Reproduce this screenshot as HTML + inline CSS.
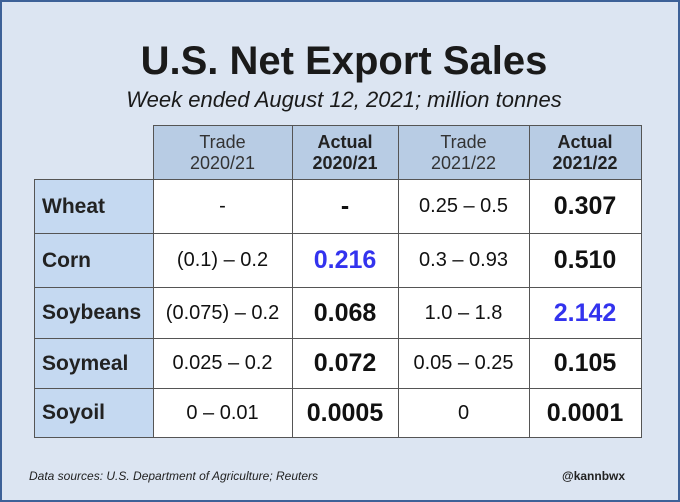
<!DOCTYPE html>
<html><head><meta charset="utf-8"><style>
body{margin:0;width:680px;height:502px;overflow:hidden;font-family:"Liberation Sans",Arial,sans-serif;}
#frame{position:absolute;left:0;top:0;width:676px;height:498px;border:2px solid #3d6198;background:#dce5f2;}
.t{position:absolute;left:4px;width:676px;text-align:center;color:#1a1a1a;}
table{position:absolute;left:32px;top:123px;border-collapse:collapse;}
td{border:1px solid #555;text-align:center;padding:0;font-size:20px;color:#111;background:#fff;}
td.lab{background:#c5d9f1;text-align:left;padding-left:7px;font-weight:bold;font-size:21px;color:#222;}
td.hd{background:#b8cce4;font-size:18px;line-height:21px;color:#333;}
td.hd.b{font-weight:bold;color:#222;}
td.e{border:none;background:transparent;}
td.v{font-weight:bold;font-size:25px;}
.blue{color:#3333ee !important;}
</style></head><body>
<div id="frame">
<div class="t" style="top:37px;font-size:40px;font-weight:bold;">U.S. Net Export Sales</div>
<div class="t" style="top:85px;font-size:22px;font-style:italic;">Week ended August 12, 2021; million tonnes</div>
<table>
<tr style="height:54px">
<td class="e" style="width:118px"></td>
<td class="hd" style="width:138px">Trade<br>2020/21</td>
<td class="hd b" style="width:105px">Actual<br>2020/21</td>
<td class="hd" style="width:130px">Trade<br>2021/22</td>
<td class="hd b" style="width:111px">Actual<br>2021/22</td>
</tr>
<tr style="height:54px"><td class="lab">Wheat</td><td>-</td><td class="v">-</td><td>0.25 – 0.5</td><td class="v">0.307</td></tr>
<tr style="height:54px"><td class="lab">Corn</td><td>(0.1) – 0.2</td><td class="v blue">0.216</td><td>0.3 – 0.93</td><td class="v">0.510</td></tr>
<tr style="height:51px"><td class="lab">Soybeans</td><td>(0.075) – 0.2</td><td class="v">0.068</td><td>1.0 – 1.8</td><td class="v blue">2.142</td></tr>
<tr style="height:50px"><td class="lab">Soymeal</td><td>0.025 – 0.2</td><td class="v">0.072</td><td>0.05 – 0.25</td><td class="v">0.105</td></tr>
<tr style="height:49px"><td class="lab">Soyoil</td><td>0 – 0.01</td><td class="v">0.0005</td><td>0</td><td class="v">0.0001</td></tr>
</table>
<div style="position:absolute;left:27px;top:467px;font-size:12px;font-style:italic;color:#222;">Data sources: U.S. Department of Agriculture; Reuters</div>
<div style="position:absolute;left:560px;top:467px;font-size:12px;font-weight:bold;color:#222;">@kannbwx</div>
</div>
</body></html>
